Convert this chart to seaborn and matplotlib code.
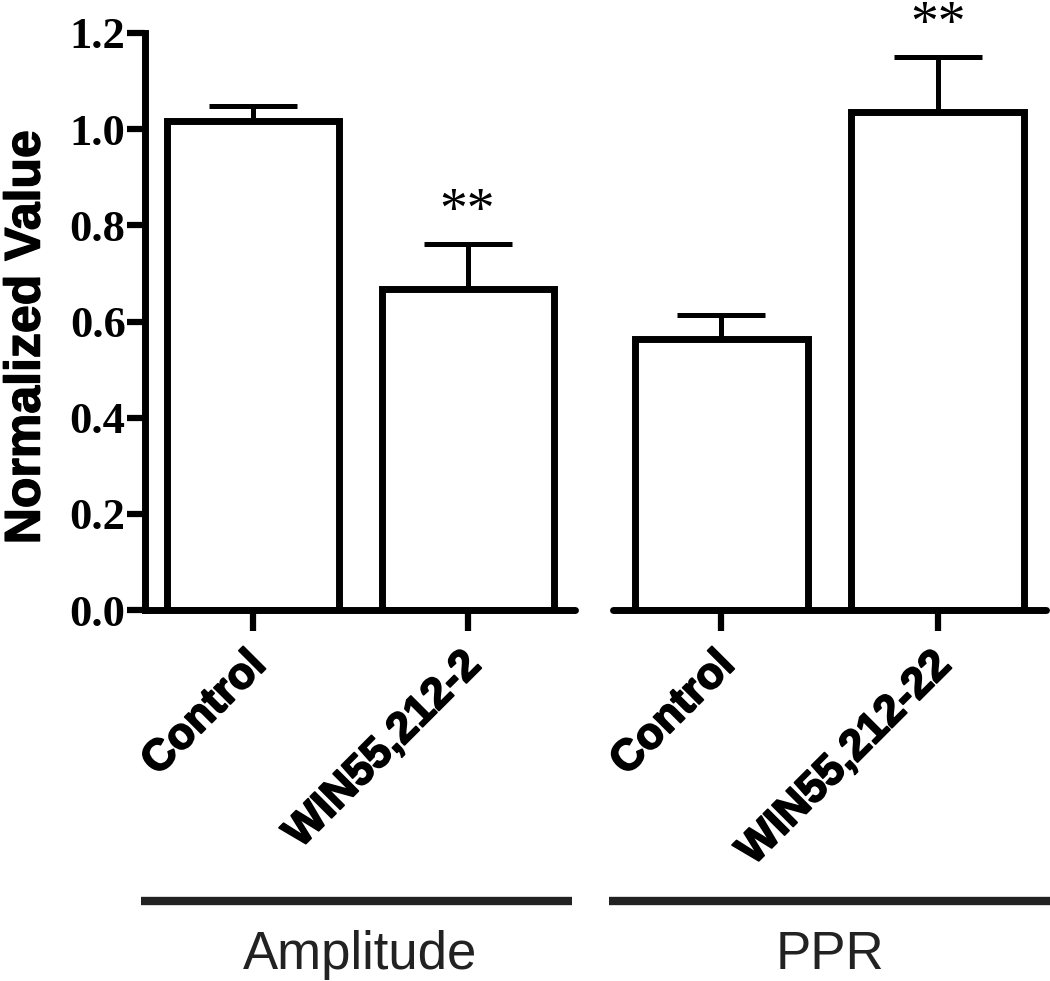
import matplotlib
matplotlib.use("Agg")
import matplotlib.pyplot as plt
import matplotlib.patheffects as pe
from matplotlib.transforms import ScaledTranslation
import pandas as pd
import seaborn as sns

# data
groups = ["Amplitude", "PPR"]
conditions = [["Control", "WIN55,212-2"], ["Control", "WIN55,212-22"]]
means = [[1.017, 0.667], [0.563, 1.035]]
sems = [[0.031, 0.094], [0.050, 0.115]]
stars = [[None, "**"], [None, "**"]]

sns.set_style("ticks", {"axes.edgecolor": "black", "text.color": "black",
                        "axes.labelcolor": "black", "xtick.color": "black",
                        "ytick.color": "black"})
plt.rcParams["font.family"] = ["Liberation Sans", "DejaVu Sans"]

fig = plt.figure(figsize=(10.5, 9.81), dpi=100)
ax1 = fig.add_axes([145 / 1050, 1 - 610 / 981, 430 / 1050, 577 / 981])
ax2 = fig.add_axes([613 / 1050, 1 - 610 / 981, 433 / 1050, 577 / 981])

heavy = [pe.withStroke(linewidth=1.3, foreground="black")]
nudge = ScaledTranslation(7 / 100, 0, fig.dpi_scale_trans)

for i, ax in enumerate([ax1, ax2]):
    df = pd.DataFrame({"condition": conditions[i], "value": means[i], "sem": sems[i]})
    sns.barplot(data=df, x="condition", y="value", color="white", edgecolor="black",
                linewidth=5, width=0.8, errorbar=None, ax=ax, zorder=2)
    ax.errorbar(range(len(df)), df["value"], yerr=[[0] * len(df), df["sem"]],
                fmt="none", ecolor="black", elinewidth=3.6, capsize=32, capthick=3.6,
                zorder=1)
    for j, s in enumerate(stars[i]):
        if s:
            ax.text(j, df["value"][j] + df["sem"][j] + 0.035, s, ha="center",
                    va="baseline", fontsize=40, family="Liberation Serif",
                    color="black", clip_on=False)

    ax.set_ylim(0, 1.2)
    ax.set_xlim(-0.5, 1.5)
    ax.set_xlabel("")
    ax.set_ylabel("")
    ax.spines[["top", "right"]].set_visible(False)
    ax.spines["bottom"].set_linewidth(5)
    ax.spines["bottom"].set_capstyle("round")
    ax.tick_params(axis="x", length=15, width=4.5, pad=20)
    ax.set_xticks(range(len(df)))
    labels = ax.set_xticklabels(conditions[i], rotation=45, ha="right", va="center",
                                rotation_mode="anchor", fontsize=31.5, fontweight="bold")
    for lab in labels:
        lab.set_path_effects(heavy)
        lab.set_transform(lab.get_transform() + nudge)

    # group bracket below the labels
    x0, x1 = (-0.52, 1.486) if i == 0 else (-0.52, 1.52)
    ax.plot([x0, x1], [-0.505, -0.505], transform=ax.get_xaxis_transform(),
            color="#222222", lw=6, clip_on=False, solid_capstyle="butt")
    ax.text(0.5, -0.598, groups[i], transform=ax.get_xaxis_transform(), ha="center",
            va="center", fontsize=38, color="#222222")

ax1.spines["left"].set_linewidth(5)
ax1.set_yticks([0, 0.2, 0.4, 0.6, 0.8, 1.0, 1.2])
ax1.set_yticklabels(["0.0", "0.2", "0.4", "0.6", "0.8", "1.0", "1.2"],
                    family="Liberation Serif", fontweight="bold", fontsize=32)
ax1.tick_params(axis="y", length=13, width=4.5, pad=1)
ax1.set_ylabel("Normalized Value", fontsize=36, fontweight="bold")
ax1.yaxis.label.set_path_effects([pe.withStroke(linewidth=1.0, foreground="black")])
ax1.yaxis.set_label_coords(-0.222, 0.473)

ax2.spines["left"].set_visible(False)
ax2.set_yticks([])

fig.savefig("out.png", dpi=100)
